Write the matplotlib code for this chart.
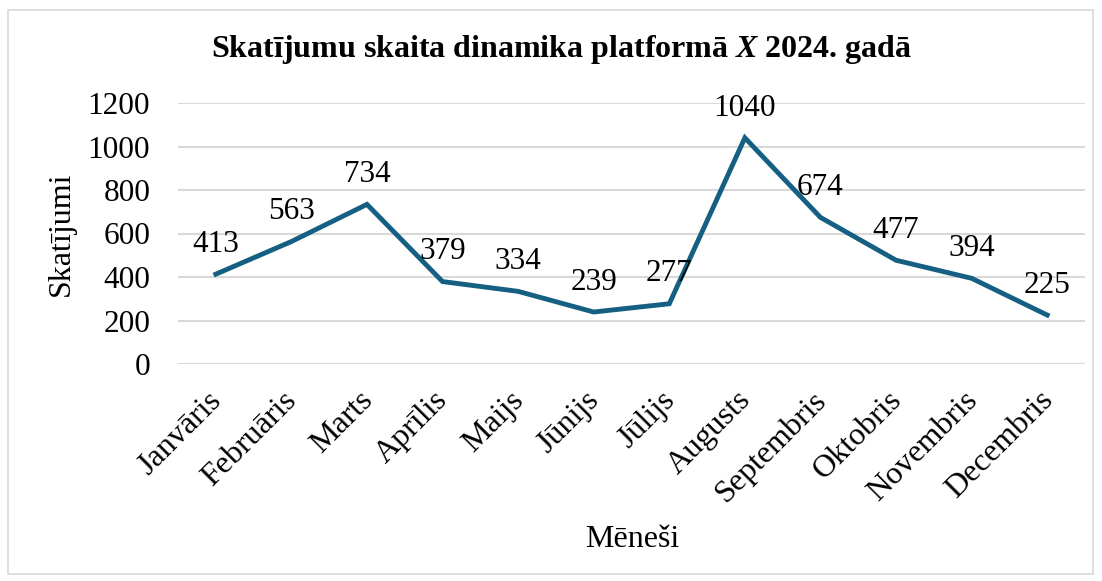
import matplotlib.pyplot as plt
import matplotlib.transforms as mtransforms
from matplotlib.patches import Rectangle

months = ['Janvāris', 'Februāris', 'Marts', 'Aprīlis', 'Maijs', 'Jūnijs',
          'Jūlijs', 'Augusts', 'Septembris', 'Oktobris', 'Novembris', 'Decembris']
views = [413, 563, 734, 379, 334, 239, 277, 1040, 674, 477, 394, 225]
y_ticks = [0, 200, 400, 600, 800, 1000, 1200]

plt.rcParams['font.family'] = ['Liberation Serif', 'DejaVu Serif']
plt.rcParams['mathtext.fontset'] = 'custom'
plt.rcParams['mathtext.it'] = 'Liberation Serif:italic:bold'
plt.rcParams['mathtext.rm'] = 'Liberation Serif:bold'

fig = plt.figure(figsize=(11.02, 5.81), dpi=100)
ax = fig.add_axes([178 / 1102, 1 - 364 / 581, (1085 - 178) / 1102, (364 - 103) / 581])

x = list(range(len(months)))
ax.plot(x, views, color='#156082', linewidth=3.5, solid_joinstyle='miter', zorder=3)
for xi, v in zip(x, views):
    ax.annotate(str(v), (xi, v), xytext=(0, 11), textcoords='offset points',
                ha='center', va='bottom', fontsize=22.5, color='black')

ax.set_xlim(-0.5, len(months) - 0.5)
ax.set_ylim(0, 1200)
ax.set_yticks(y_ticks)
ax.set_yticklabels([str(t) for t in y_ticks], fontsize=22.5)
ax.set_xticks(x)
ax.set_xticklabels(months, fontsize=23, rotation=45, ha='right', rotation_mode='anchor')
ax.tick_params(axis='x', length=0, pad=15)
ax.tick_params(axis='y', length=0, pad=20)
# nudge the rotated month labels a little to the left
shift = mtransforms.ScaledTranslation(-0.09, -0.01, fig.dpi_scale_trans)
for lbl in ax.get_xticklabels():
    lbl.set_transform(lbl.get_transform() + shift)
ax.grid(axis='y', color='#D9D9D9', linewidth=1.5)
ax.set_axisbelow(True)
for s in ax.spines.values():
    s.set_visible(False)

ax.set_ylabel('Skatījumi', fontsize=23)
ax.set_xlabel('Mēneši', fontsize=23)
ax.xaxis.set_label_coords((632 - 178) / 907, (364 - 525) / 261)
ax.yaxis.set_label_coords((76 - 178) / 907, 0.5)

fig.text(562 / 1102, 1 - 50 / 581, r'Skatījumu skaita dinamika platformā $\mathit{X}$ 2024. gadā',
         ha='center', va='center', fontsize=23, fontweight='bold')

fig.patches.append(Rectangle((8 / 1102, 1 - 574 / 581), 1085 / 1102, 564 / 581,
                             transform=fig.transFigure, fill=False,
                             edgecolor='#D9D9D9', linewidth=1.2))

fig.savefig('out.png', dpi=100)
